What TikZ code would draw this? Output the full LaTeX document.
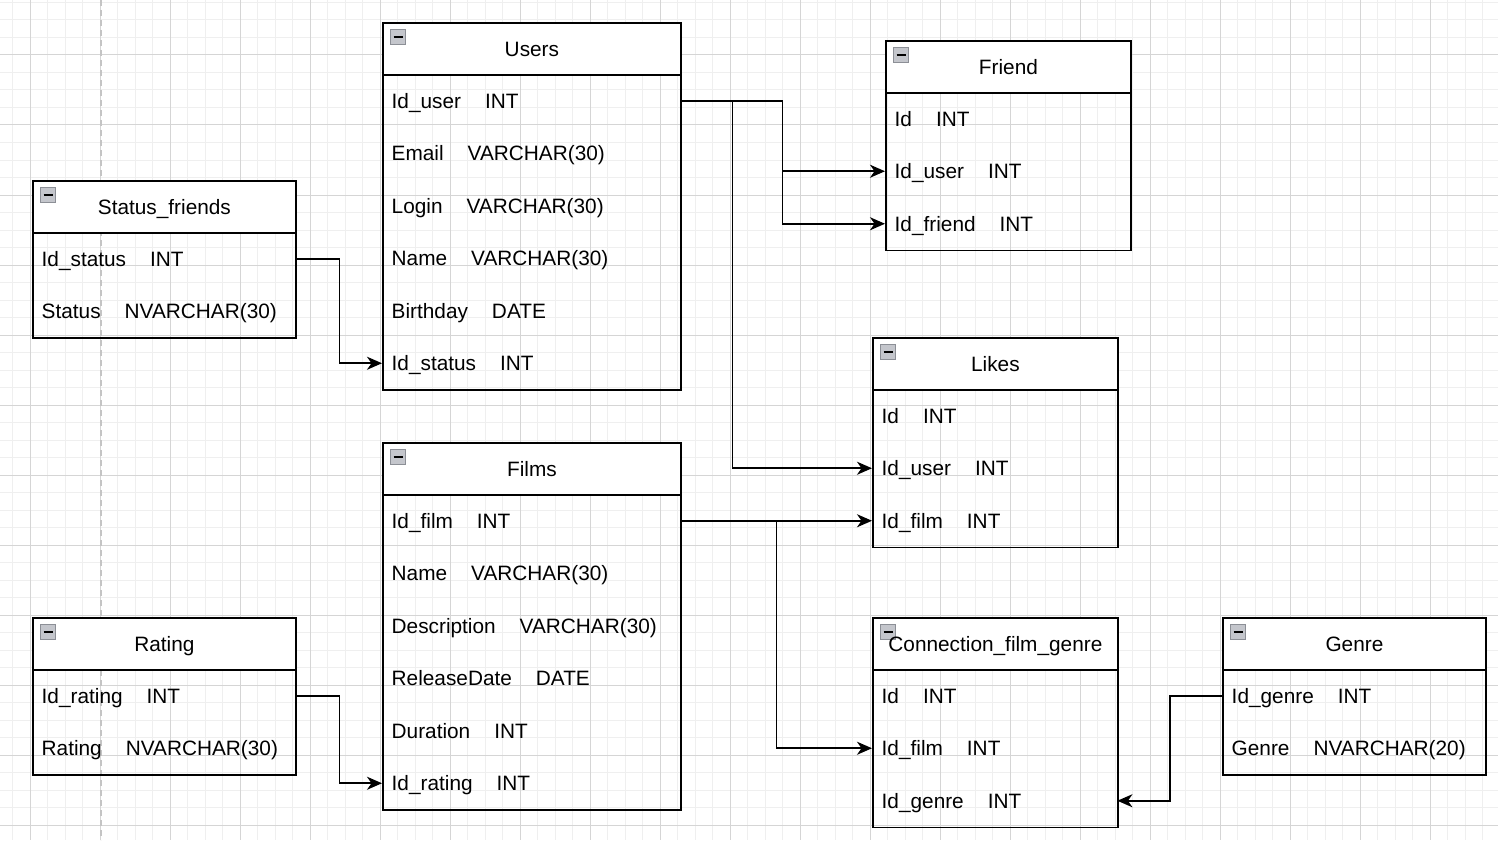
\documentclass[tikz,border=0pt]{standalone}
\usepackage{fontspec}
\setmainfont{Liberation Sans}
\usetikzlibrary{arrows.meta}
\definecolor{gridminor}{HTML}{EFEFEF}
\definecolor{gridmajor}{HTML}{D5D5D5}
\definecolor{pagebreak}{HTML}{C4C4C4}
\definecolor{iconfill}{HTML}{C4C6CC}
\definecolor{icondraw}{HTML}{8C8F96}
\tikzset{
  minorline/.style={draw=gridminor, line width=1pt},
  majorline/.style={draw=gridmajor, line width=1pt},
  tblhead/.style={draw=black, fill=white, line width=1.8pt, anchor=north west, minimum height=52pt, inner sep=0pt, text height=14.9pt, text depth=0pt, font=\fontsize{20.8}{25}\selectfont},
  tblbox/.style={draw=black, line width=1.8pt, anchor=north west, inner sep=0pt},
  tblrow/.style={anchor=west, minimum height=52.5pt, inner xsep=9.5pt, inner ysep=0pt, align=left, text height=14.9pt, text depth=0pt, font=\fontsize{20.8}{25}\selectfont},
  iconbox/.style={draw=icondraw, fill=iconfill, line width=1pt, minimum size=15pt, inner sep=0pt},
  conn/.style={draw=black, line width=1.7pt, -{Stealth[length=15pt, width=13pt, inset=4.5pt]}},
  link/.style={draw=black, line width=1.7pt}
}
\newcommand\dbtable[7]{%
  % #1 name, #2 x, #3 top, #4 width, #5 number of rows, #6 title, #7 rows
  \pgfmathsetmacro\tblh{52+52.5*#5}
  \foreach \f/\t [count=\k] in {#7}{
    \node[tblrow, text width={(#4-19)*1pt}, minimum width=#4pt] (#1-r\k) at (#2,{#3+52.5+52.5*(\k-0.5)}) {\f\hspace{24pt}\t};
  }
  \node[tblbox, minimum width=#4pt, minimum height=\tblh pt] (#1-box) at (#2,#3) {};
  \node[tblhead, minimum width=#4pt] (#1) at (#2,#3) {};
  \node[iconbox] (#1-icon) at ({#2+16},{#3+15}) {};
  \draw[line width=2pt] ([xshift=3.5pt]#1-icon.west) -- ([xshift=-3.5pt]#1-icon.east);
  \node[font=\fontsize{20.8}{25}\selectfont, text height=14.9pt, text depth=0pt, inner sep=0pt] (#1-title) at ([yshift=-0.3pt]#1.center) {#6};
}
\begin{document}
\begin{tikzpicture}[x=1pt,y=-1pt]
\useasboundingbox (0,0) rectangle (1498,840);
\fill[white] (0,0) rectangle (1498,840);
% grid
\foreach \i in {0,...,85} \draw[minorline] ({12.5+17.5*\i},0) -- ({12.5+17.5*\i},840);
\foreach \i in {0,...,47} \draw[minorline] (0,{2.5+17.5*\i}) -- (1498,{2.5+17.5*\i});
\foreach \i in {0,...,21} \draw[majorline] ({30+70*\i},0) -- ({30+70*\i},840);
\foreach \i in {1,...,12} \draw[majorline] (0,{-15+70*\i}) -- (1498,{-15+70*\i});
\draw[pagebreak, line width=1.6pt, dash pattern=on 6pt off 4pt] (101,0) -- (101,840);

% tables
\dbtable{users}{382}{22}{298}{6}{Users}{Id\_user/INT, Email/VARCHAR(30), Login/VARCHAR(30), Name/VARCHAR(30), Birthday/DATE, Id\_status/INT}
\dbtable{friend}{885}{40}{245}{3}{Friend}{Id/INT, Id\_user/INT, Id\_friend/INT}
\dbtable{status}{32}{180}{263}{2}{Status\_friends}{Id\_status/INT, Status/NVARCHAR(30)}
\dbtable{likes}{872}{337}{245}{3}{Likes}{Id/INT, Id\_user/INT, Id\_film/INT}
\dbtable{films}{382}{442}{298}{6}{Films}{Id\_film/INT, Name/VARCHAR(30), Description/VARCHAR(30), ReleaseDate/DATE, Duration/INT, Id\_rating/INT}
\dbtable{rating}{32}{617}{263}{2}{Rating}{Id\_rating/INT, Rating/NVARCHAR(30)}
\dbtable{cfg}{872}{617}{245}{3}{Connection\_film\_genre}{Id/INT, Id\_film/INT, Id\_genre/INT}
\dbtable{genre}{1222}{617}{263}{2}{Genre}{Id\_genre/INT, Genre/NVARCHAR(20)}

% connectors
\draw[conn] (users-r1.east) -- ++(102,0) |- (friend-r2.west);
\draw[conn] (users-r1.east) -- ++(102,0) |- (friend-r3.west);
\draw[conn] (users-r1.east) -- ++(52,0) |- (likes-r2.west);
\draw[conn] (status-r1.east) -- ++(44,0) |- (users-r6.west);
\draw[conn] (films-r1.east) -- (likes-r3.west);
\draw[conn] (films-r1.east) -- ++(96,0) |- (cfg-r2.west);
\draw[conn] (rating-r1.east) -- ++(44,0) |- (films-r6.west);
\draw[conn] (genre-r1.west) -- ++(-52,0) |- (cfg-r3.east);
\end{tikzpicture}
\end{document}
